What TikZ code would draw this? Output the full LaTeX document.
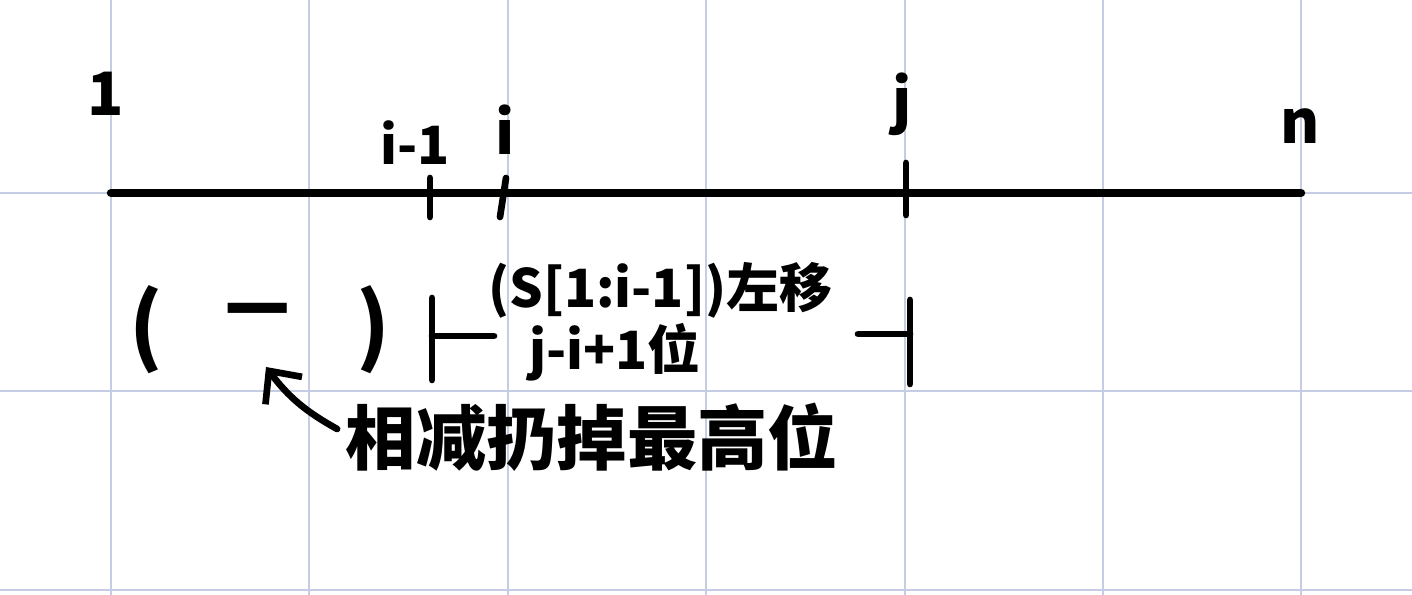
\documentclass[tikz,border=0pt]{standalone}
\usepackage{fontspec}
\setmainfont{Noto Sans CJK SC}
\usetikzlibrary{positioning, arrows.meta}

\definecolor{gridblue}{RGB}{196,205,228}

\tikzset{
  pen/.style={line width=1.9pt, line cap=round},
  lbl/.style={inner sep=0pt, font=\fontsize{17}{19}\selectfont\bfseries},
  note/.style={inner sep=0pt, font=\fontsize{15}{17}\selectfont\bfseries},
  paren/.style={inner sep=0pt, font=\fontsize{24}{26}\selectfont\bfseries}
}

\begin{document}
\begin{tikzpicture}[x=0.01cm, y=-0.01cm]
    \useasboundingbox (0,0) rectangle (1412,595);
    \fill[white] (0,0) rectangle (1412,595);

    % squared paper
    \foreach \gx in {111,309,508,706,905,1103,1301}
      \draw[gridblue, line width=0.7pt] (\gx,0) -- (\gx,595);
    \foreach \gy in {193,391,590}
      \draw[gridblue, line width=0.7pt] (0,\gy) -- (1412,\gy);

    % number line
    \coordinate (start) at (111,193);
    \coordinate (end) at (1301,193);
    \draw[pen, line width=2.4pt] (start) -- (end);

    \node[lbl] (one) at (106,94) {1};
    \node[note] (im1) at (415,143) {i-1};
    \node[lbl] (i) at (505,130) {i};
    \node[lbl] (j) at (902,104) {j};
    \node[lbl] (n) at (1300,126) {n};

    \coordinate (t1) at (430,193);
    \coordinate (t2) at (503,193);
    \coordinate (t3) at (906,193);
    \draw[pen] (t1) ++(0,-15) -- ++(0,39);
    \draw[pen] (t2) ++(3,-15) -- ++(-6,39);
    \draw[pen] (t3) ++(0,-30) -- ++(0,52);

    % bottom row
    \node[paren] (lp) at (146,330) {(};
    \node[paren] (minus) at (258,322) {－};
    \node[paren] (rp) at (373,330) {)};

    \coordinate (lb) at (432,336);
    \coordinate (rb) at (910,334);
    \draw[pen] (lb) ++(0,-38) -- ++(0,82);
    \draw[pen] (lb) -- ++(62,0);
    \draw[pen] (rb) ++(0,-34) -- ++(0,84);
    \draw[pen] (rb) -- ++(-52,0);

    \node[note] (shift) at (660,290) {(S[1:i-1])左移};
    \node[note] (bits) at (615,352) {j-i+1位};

    \node[lbl, font=\fontsize{20}{22}\selectfont\bfseries] (drop) at (592,437) {相减扔掉最高位};

    \coordinate (tip) at ([shift={(8,45)}]minus.center);
    \draw[pen, -{Straight Barb[length=7pt, width=13pt]}]
      ([shift={(-8,-8)}]drop.west) to[bend left=12] (tip);
  \end{tikzpicture}
\end{document}
